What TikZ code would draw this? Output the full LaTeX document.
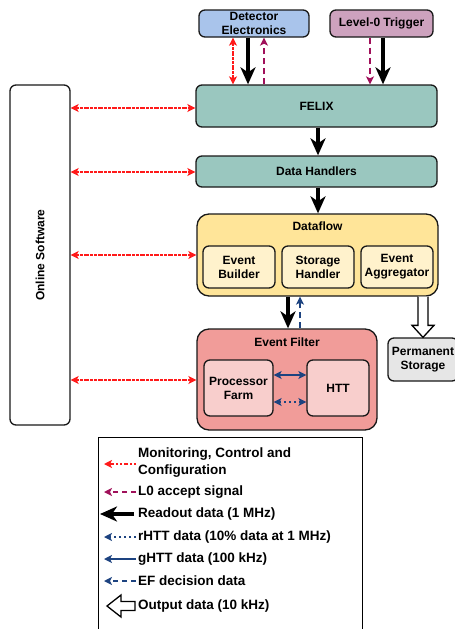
\documentclass[tikz,border=0pt]{standalone}
\usepackage{fontspec}
\setmainfont{Liberation Sans}
\usetikzlibrary{arrows.meta,calc}
\definecolor{detfill}{HTML}{A9C4EB}
\definecolor{lzfill}{HTML}{CDA2BE}
\definecolor{tealfill}{HTML}{9AC7BF}
\definecolor{dffill}{HTML}{FFE599}
\definecolor{dfinner}{HTML}{FFF2CC}
\definecolor{effill}{HTML}{F19C99}
\definecolor{efinner}{HTML}{F8CECC}
\definecolor{psfill}{HTML}{E6E6E6}
\definecolor{mcred}{HTML}{FF1A1A}
\definecolor{lzpurple}{HTML}{A0105A}
\definecolor{navy}{HTML}{1D4380}
\tikzset{
  box/.style={draw=black!90, line width=1.3pt, rounded corners=6pt, align=center,
    font=\bfseries\fontsize{12}{14}\selectfont, inner sep=0pt},
  bigbox/.style={box, rounded corners=12pt},
  rtip/.tip={Stealth[length=17pt,width=15pt,inset=5pt]},
  stip/.tip={Stealth[length=8pt,width=8pt,inset=2pt]},
  readout/.style={line width=3.2pt, -rtip},
  mccpat/.style={mcred, line width=1.8pt, dash pattern=on 2.5pt off 1.5pt on 2.5pt off 1.5pt on 4.5pt off 1.5pt},
  mcc/.style={mccpat, stip-stip},
  mcconly/.style={mccpat, -stip},
  lzero/.style={lzpurple, line width=1.6pt, dash pattern=on 6pt off 4pt, -stip},
  efdec/.style={navy, line width=1.6pt, dash pattern=on 6pt off 4pt, -stip},
  ghtt/.style={navy, line width=1.6pt, stip-stip},
  rhtt/.style={navy, line width=1.6pt, dash pattern=on 2pt off 3pt, stip-stip},
  hollow/.style={draw=black, fill=white, line width=1.3pt, line join=miter},
  legtext/.style={anchor=west, align=left, inner sep=0pt, font=\bfseries\fontsize{13.5}{16.5}\selectfont},
}
\begin{document}
\begin{tikzpicture}[x=1pt,y=-1pt]
\path[use as bounding box, clip] (0,0) rectangle (455,629);
\fill[white] (0,0) rectangle (455,629);

% top boxes
\node[box, fill=detfill, minimum width=110pt, minimum height=27pt] (det) at (254,23.5) {Detector\\Electronics};
\node[box, fill=lzfill, minimum width=103pt, minimum height=27pt] (lz) at (381.5,23.5) {Level-0 Trigger};
\node[box, fill=tealfill, minimum width=241pt, minimum height=42pt] (felix) at (316.5,106) {FELIX};
\node[box, fill=tealfill, minimum width=241pt, minimum height=31pt] (dh) at (316.5,171.5) {Data Handlers};

% dataflow
\node[bigbox, fill=dffill, minimum width=241pt, minimum height=82pt] (df) at (317.5,255) {};
\node[box, draw=none, fill=none] (dflabel) at (317.5,226) {Dataflow};
\node[box, fill=dfinner, minimum width=72pt, minimum height=42pt] (eb) at (239,267) {Event\\Builder};
\node[box, fill=dfinner, minimum width=72pt, minimum height=42pt] (sh) at (318,267) {Storage\\Handler};
\node[box, fill=dfinner, minimum width=72pt, minimum height=42pt] (ea) at (397,267) {Event\\Aggregator};

% event filter
\node[bigbox, fill=effill, minimum width=180pt, minimum height=101pt] (ef) at (287,379.5) {};
\node[box, draw=none, fill=none] (eflabel) at (287,342) {Event Filter};
\node[box, fill=efinner, minimum width=69pt, minimum height=56pt] (pf) at (238.5,388) {Processor\\Farm};
\node[box, fill=efinner, minimum width=62pt, minimum height=56pt] (htt) at (338,388) {HTT};

% permanent storage
\node[box, fill=psfill, minimum width=70pt, minimum height=43pt] (ps) at (423,359.5) {Permanent\\Storage};

% online software
\node[box, fill=white, minimum width=60pt, minimum height=340pt] (os) at (40,255) {};
\node[box, draw=none, fill=none, rotate=90] (oslabel) at (40,255) {Online Software};

% connectors: detector / trigger to FELIX
\draw[mcc] (det.south -| 233,0) -- (felix.north -| 233,0);
\draw[readout] (det.south -| 248,0) -- (felix.north -| 248,0);
\draw[lzero] (felix.north -| 264,0) -- (det.south -| 264,0);
\draw[lzero] (lz.south -| 370,0) -- (felix.north -| 370,0);
\draw[readout] (lz.south -| 383,0) -- (felix.north -| 383,0);

% main chain
\draw[readout] (felix.south -| 318,0) -- (dh.north -| 318,0);
\draw[readout] (dh.south -| 318,0) -- (df.north -| 318,0);
\draw[readout] (df.south -| 288,0) -- (ef.north -| 288,0);
\draw[efdec] (ef.north -| 300,0) -- (df.south -| 300,0);

% PF <-> HTT
\draw[ghtt] (pf.east |- 0,375) -- (htt.west |- 0,375);
\draw[rhtt] (pf.east |- 0,402) -- (htt.west |- 0,402);

% online software links
\draw[mcc] (os.east |- 0,108) -- (felix.west |- 0,108);
\draw[mcc] (os.east |- 0,172) -- (dh.west |- 0,172);
\draw[mcc] (os.east |- 0,255) -- (df.west |- 0,255);
\draw[mcc] (os.east |- 0,380) -- (ef.west |- 0,380);

% hollow output arrow to permanent storage
\coordinate (pa) at (df.south -| ps.north);
\coordinate (pb) at (ps.north);
\draw[hollow] ($(pa)+(-5,0)$) -- ($(pb)+(-5,-12)$) -- ($(pb)+(-11,-12)$) -- (pb)
  -- ($(pb)+(11,-12)$) -- ($(pb)+(5,-12)$) -- ($(pa)+(5,0)$);

% legend
\node[draw=black, line width=1pt, minimum width=264pt, minimum height=203pt, inner sep=0pt] (legend) at (230,538.5) {};
\coordinate (l1a) at (136,464); \coordinate (l1b) at (104,464);
\draw[mcconly] (l1a) -- (l1b);
\node[legtext] (t1) at (138,462.5) {Monitoring, Control and\\Configuration};
\coordinate (l2a) at (136,492); \coordinate (l2b) at (104,492);
\draw[lzero, dash pattern=on 5pt off 4pt] (l2a) -- (l2b);
\node[legtext] (t2) at (138,492) {L0 accept signal};
\coordinate (l3a) at (134,514); \coordinate (l3b) at (100,514);
\draw[readout] (l3a) -- (l3b);
\node[legtext] (t3) at (138,514) {Readout data (1 MHz)};
\coordinate (l4a) at (136,537); \coordinate (l4b) at (104,537);
\draw[navy, line width=1.6pt, dash pattern=on 2pt off 3pt, -stip] (l4a) -- (l4b);
\node[legtext] (t4) at (138,537) {rHTT data (10\% data at 1 MHz)};
\coordinate (l5a) at (136,559); \coordinate (l5b) at (104,559);
\draw[navy, line width=1.6pt, -stip] (l5a) -- (l5b);
\node[legtext] (t5) at (138,559) {gHTT data (100 kHz)};
\coordinate (l6a) at (136,581); \coordinate (l6b) at (104,581);
\draw[efdec, dash pattern=on 5pt off 4pt] (l6a) -- (l6b);
\node[legtext] (t6) at (138,581) {EF decision data};
\coordinate (l7) at (107,606);
\draw[hollow] (135,601.5) -- (121,601.5) -- (121,595) -- (l7) -- (121,617) -- (121,610.5) -- (135,610.5) -- cycle;
\node[legtext] (t7) at (138,606) {Output data (10 kHz)};
\end{tikzpicture}
\end{document}
